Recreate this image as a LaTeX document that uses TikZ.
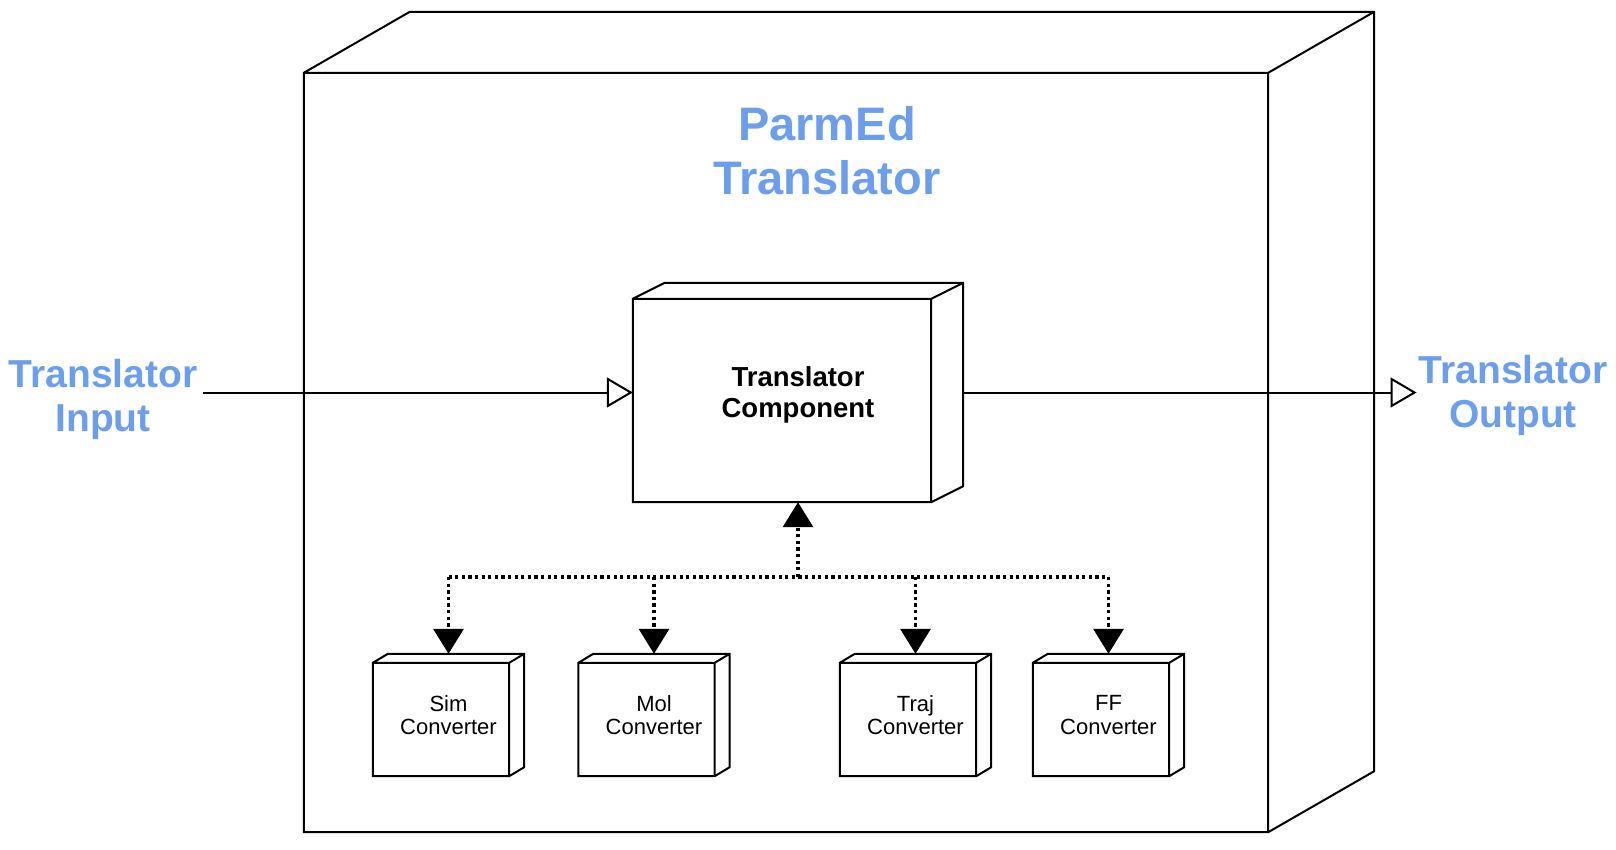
\documentclass[tikz,border=0pt]{standalone}
\usepackage{fontspec}
\setmainfont{Liberation Sans}
\usetikzlibrary{arrows.meta}
\definecolor{labelblue}{HTML}{6D9EEB}

\begin{document}
\begin{tikzpicture}[x=1pt,y=-1pt,
        box/.style={rectangle,draw=none,inner sep=0pt,align=center},
        bigtext/.style={text=labelblue,inner sep=2pt,align=center,font=\fontsize{39}{44}\selectfont\bfseries},
        busline/.style={line width=3.3pt,dash pattern=on 3.3pt off 3.3pt,-{Triangle[width=30pt,length=25pt]}},
        flowline/.style={line width=2pt,-{Triangle[open,width=30pt,length=26pt,fill=white]}}]
    \useasboundingbox (0,0) rectangle (1616,850);
    \begin{scope}[every node/.style={box}]
        \node[minimum width=1070pt,minimum height=820pt] (parmed) at (839,422) {};
        \node[minimum width=330pt,minimum height=219pt,font=\fontsize{27.5}{31}\selectfont\bfseries] (comp) at (798,392.5) {\rule{0pt}{25pt}Translator\\Component};
    \end{scope}
    \begin{scope}[every node/.style={box,minimum width=151pt,minimum height=122pt,font=\fontsize{22}{23.5}\selectfont}]
        \node (sim) at (448.5,715) {Sim\\Converter};
        \node (mol) at (654,715) {Mol\\Converter};
        \node (traj) at (915.5,715) {Traj\\Converter};
        \node (ff) at (1108.5,715) {FF\\Converter};
    \end{scope}
    \node[bigtext,font=\fontsize{47}{54}\selectfont\bfseries] (title) at (827,151) {ParmEd\\Translator};
    \node[bigtext] (inlabel) at (103,399) {Translator\\Input};
    \node[bigtext] (outlabel) at (1513,395) {Translator\\Output};
    % boxes drawn in 3d
    \foreach \n/\dx/\dy in {parmed/106/61,comp/32/16,sim/15/9,mol/15/9,traj/15/9,ff/15/9}
        \draw[line width=2pt]
            ([yshift=-\dy pt]\n.north west) -- ([xshift=\dx pt]\n.north west) -- (\n.north east)
            -- ([yshift=\dy pt]\n.south east) -- ([xshift=-\dx pt]\n.south east) -- (\n.south west) -- cycle
            ([yshift=-\dy pt]\n.north west) -- ([xshift=-\dx pt,yshift=-\dy pt]\n.north east) -- ([xshift=-\dx pt]\n.south east)
            ([xshift=-\dx pt,yshift=-\dy pt]\n.north east) -- (\n.north east);
    % in and out
    \draw[flowline,shorten <=4pt] (inlabel.east |- comp) -- (comp);
    \draw[flowline] (comp) -- (comp -| outlabel.west);
    % converters
    \coordinate (bus) at (798,577);
    \draw[busline] (bus) -- (comp);
    \draw[busline,-] (sim |- bus) -- (ff |- bus);
    \foreach \n in {sim,mol,traj,ff}
        \draw[busline] (\n |- bus) -- (\n);
\end{tikzpicture}
\end{document}
